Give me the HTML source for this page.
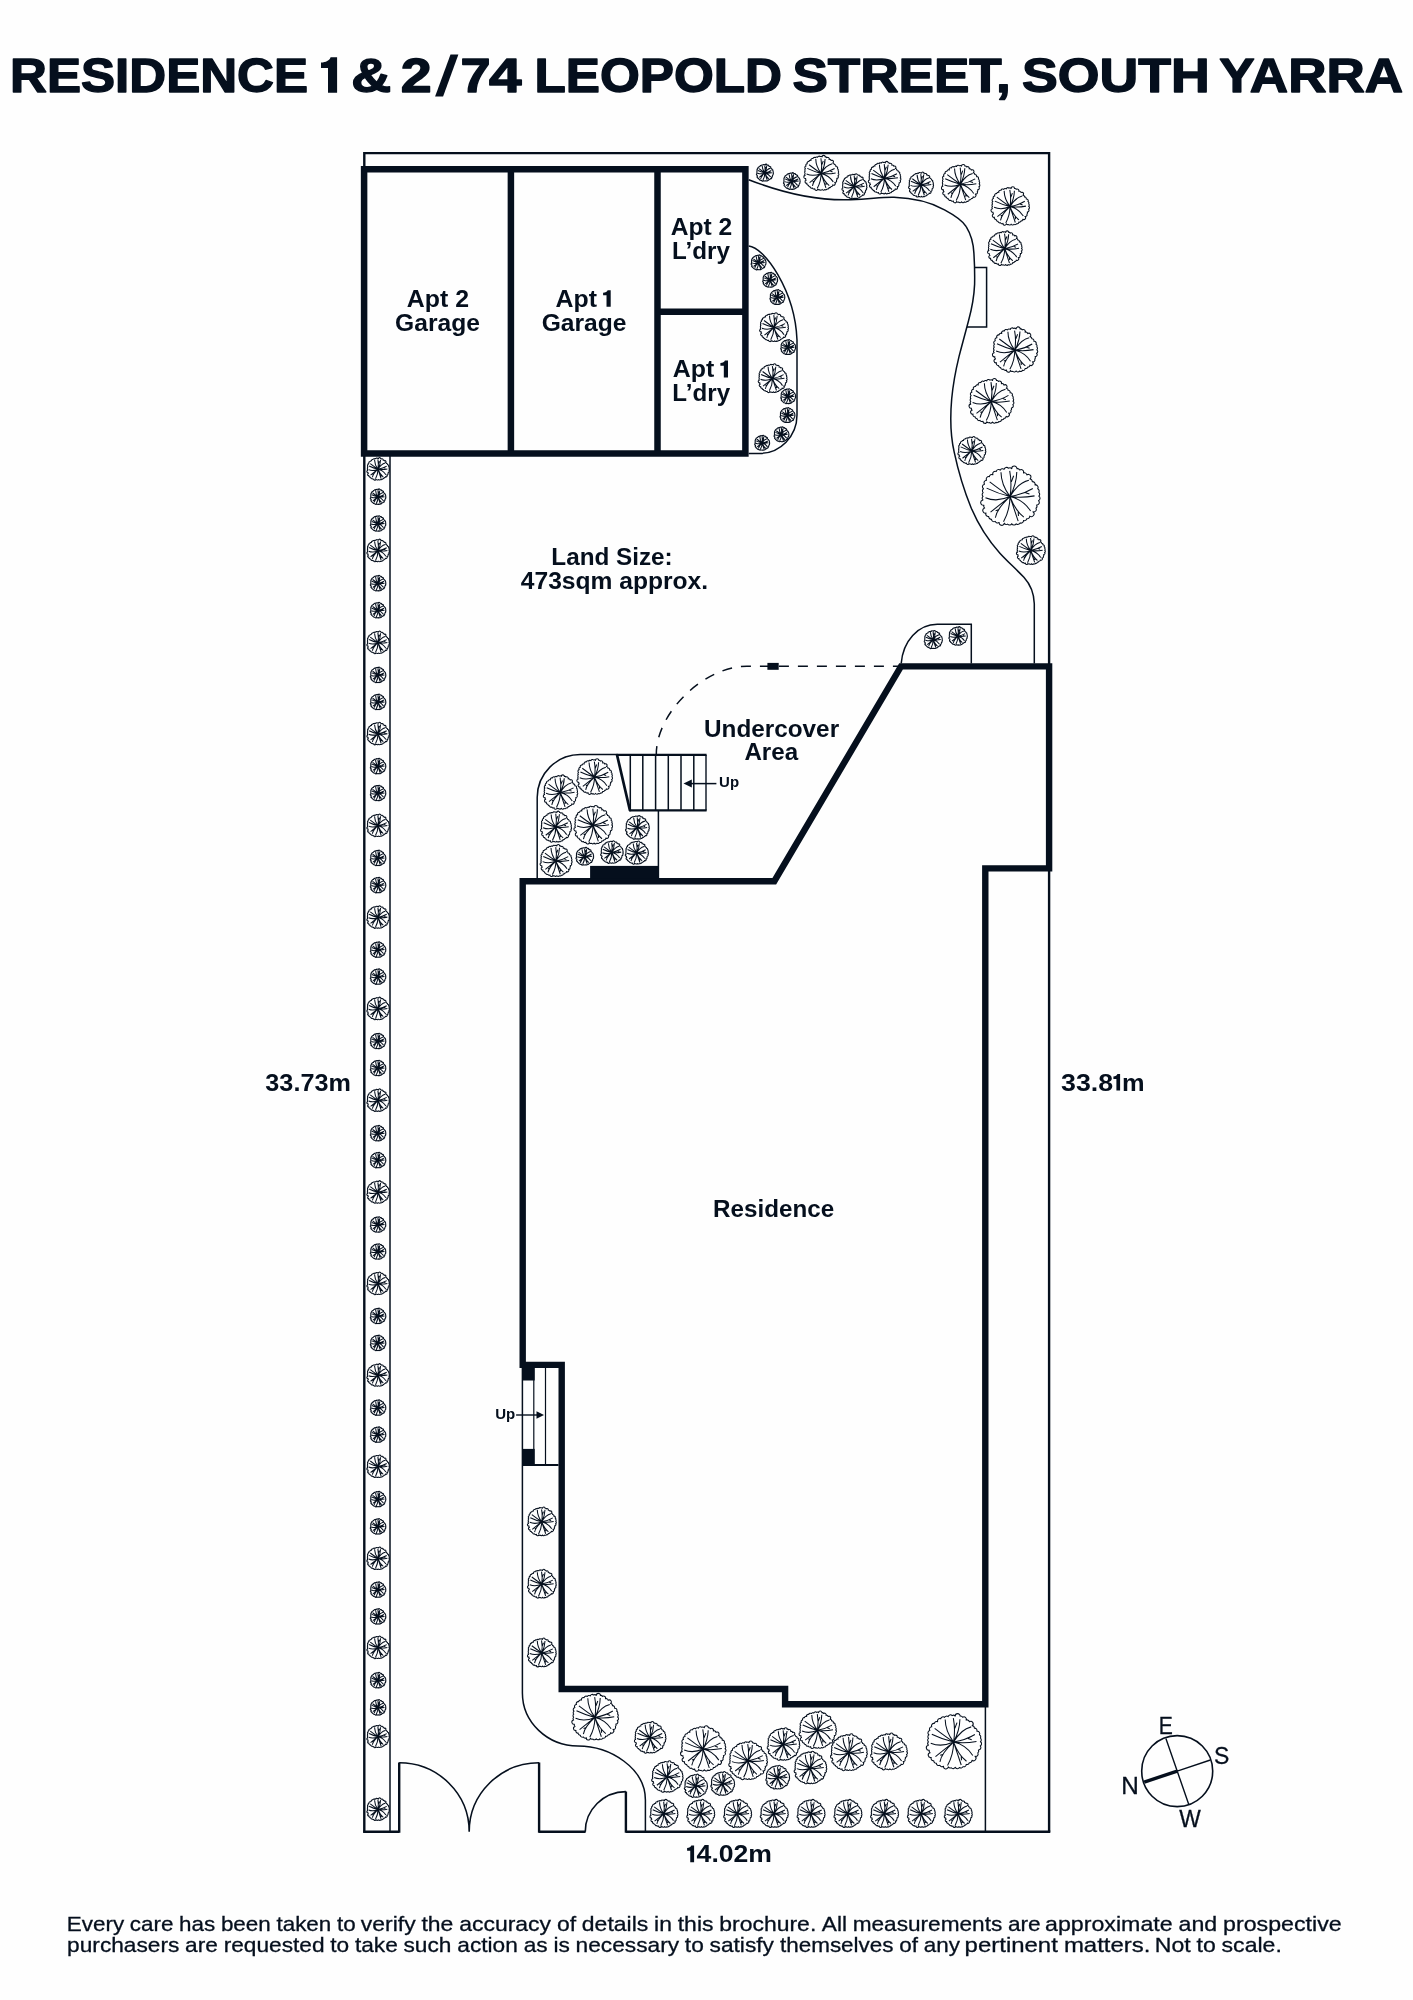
<!DOCTYPE html>
<html><head><meta charset="utf-8"><title>Site plan</title>
<style>
html,body{margin:0;padding:0;background:#fefefe;}
svg{display:block;font-family:"Liberation Sans",sans-serif;}
.t{fill:none;stroke:#050f1d;stroke-width:1.5;}
.m{fill:none;stroke:#050f1d;stroke-width:2.4;}
.w{fill:none;stroke:#050f1d;stroke-width:6.5;stroke-linejoin:miter;stroke-linecap:butt;}
.p{fill:none;stroke:#050f1d;stroke-width:1.05;vector-effect:non-scaling-stroke;stroke-linejoin:round;}
text{fill:#050f1d;}
svg{will-change:transform;}
</style></head><body>
<svg width="1413" height="2000" viewBox="0 0 1413 2000">
<rect width="1413" height="2000" fill="#fefefe"/>
<defs><path id="pl" class="p" d="M0.972,-0.015A0.085,0.085 0 0 1 0.962,0.137A0.085,0.085 0 0 1 0.898,0.284A0.085,0.085 0 0 1 0.878,0.392A0.085,0.085 0 0 1 0.776,0.513A0.085,0.085 0 0 1 0.667,0.657A0.085,0.085 0 0 1 0.570,0.745A0.085,0.085 0 0 1 0.457,0.807A0.085,0.085 0 0 1 0.341,0.889A0.085,0.085 0 0 1 0.209,0.921A0.085,0.085 0 0 1 0.059,0.914A0.085,0.085 0 0 1 -0.084,0.930A0.085,0.085 0 0 1 -0.193,0.897A0.085,0.085 0 0 1 -0.365,0.873A0.085,0.085 0 0 1 -0.498,0.837A0.085,0.085 0 0 1 -0.625,0.763A0.085,0.085 0 0 1 -0.718,0.674A0.085,0.085 0 0 1 -0.811,0.557A0.085,0.085 0 0 1 -0.853,0.387A0.085,0.085 0 0 1 -0.882,0.293A0.085,0.085 0 0 1 -0.913,0.112A0.085,0.085 0 0 1 -0.912,-0.007A0.085,0.085 0 0 1 -0.908,-0.137A0.085,0.085 0 0 1 -0.895,-0.267A0.085,0.085 0 0 1 -0.861,-0.420A0.085,0.085 0 0 1 -0.792,-0.553A0.085,0.085 0 0 1 -0.697,-0.675A0.085,0.085 0 0 1 -0.578,-0.741A0.085,0.085 0 0 1 -0.465,-0.848A0.085,0.085 0 0 1 -0.327,-0.896A0.085,0.085 0 0 1 -0.198,-0.923A0.085,0.085 0 0 1 -0.053,-0.960A0.085,0.085 0 0 1 0.058,-0.942A0.085,0.085 0 0 1 0.236,-0.942A0.085,0.085 0 0 1 0.328,-0.900A0.085,0.085 0 0 1 0.455,-0.798A0.085,0.085 0 0 1 0.571,-0.734A0.085,0.085 0 0 1 0.673,-0.597A0.085,0.085 0 0 1 0.752,-0.505A0.085,0.085 0 0 1 0.844,-0.393A0.085,0.085 0 0 1 0.935,-0.265A0.085,0.085 0 0 1 0.973,-0.146A0.085,0.085 0 0 1 0.972,-0.015Z M0,0Q-.3,-.4 -.305,-.819 M0,0Q.07,-.45 -.01,-.867 M.045,-.5L.124,-.705 M0,0Q.22,-.42 .229,-.829 M0,0Q.27,-.466 .638,-.552 M0,0Q.45,-.08 .771,-.276 M.524,-.133L.657,-.086 M0,0Q.4,.06 .829,-.025 M0,0Q.45,.1 .695,.486 M0,0Q.173,.464 .467,.695 M.276,.505L.286,.657 M0,0L.276,.829 M0,0Q0,.45 -.219,.848 M0,0Q-.44,.4 -.495,.714 M-.39,.448L-.486,.476 M0,0L-.657,.524 M0,0Q-.45,.2 -.829,.038 M0,0Q-.4,-.1 -.79,-.286 M0,0Q-.3,-.2 -.686,-.495"/></defs>

<g font-weight="700" stroke="#050f1d" stroke-width="1.4" stroke-linejoin="round">
<text x="10.08" y="91.80" font-size="48.8" textLength="297.99" lengthAdjust="spacingAndGlyphs">RESIDENCE</text>
<text x="351.31" y="91.80" font-size="48.8" textLength="39.97" lengthAdjust="spacingAndGlyphs">&amp;</text>
<text x="400.85" y="91.80" font-size="48.8" textLength="30.94" lengthAdjust="spacingAndGlyphs">2</text>
<text x="460.44" y="91.80" font-size="48.8" textLength="30.09" lengthAdjust="spacingAndGlyphs">7</text>
<text x="489.02" y="91.80" font-size="48.8" textLength="32.54" lengthAdjust="spacingAndGlyphs">4</text>
<text x="534.47" y="91.80" font-size="48.8" textLength="247.56" lengthAdjust="spacingAndGlyphs">LEOPOLD</text>
<text x="792.41" y="91.80" font-size="48.8" textLength="218.25" lengthAdjust="spacingAndGlyphs">STREET,</text>
<text x="1021.99" y="91.80" font-size="48.8" textLength="187.80" lengthAdjust="spacingAndGlyphs">SOUTH</text>
<text x="1219.34" y="91.80" font-size="48.8" textLength="183.80" lengthAdjust="spacingAndGlyphs">YARRA</text>
</g>
<path fill="#050f1d" d="M435.1,96.5H443.1L458.4,54.4H450.5Z"/>
<path fill="#050f1d" d="M337.1,57.3V92.7H328V68.1H321V62.6C326,62.4 329.5,60.5 330.6,57.3Z"/>
<path class="m" d="M364.3,1831.8V153.1H1049.1V1831.8"/>
<path class="m" d="M363.1,1831.8H399.2 M539.1,1831.8H585.6 M625.9,1831.8H1050.3"/>
<path class="m" d="M399.2,1832.7V1762.5 M539.1,1832.7V1762.5 M625.9,1832.7V1791.4"/>
<path class="t" style="stroke-width:1.6" d="M399.2,1762.7A70,69 0 0 1 469.2,1831.8A70,69 0 0 1 539.1,1762.7 M625.9,1791.6A41,40 0 0 0 585.3,1831.8"/>
<path class="t" style="stroke-width:1.5" d="M390,456V1831.8"/>
<path class="t" style="stroke-width:1.5" d="M985.4,1707V1831.8"/>
<path class="t" d="M748.7,179.7C780,192 815,201 850.7,199.7C872,199 880,197 894,197.3C915,198 932,203 944.5,209.8C957,216.5 963,221 966.2,226.6C972,236 973.5,245 973.9,253.1C974.6,264 974.8,274 974.6,284.4C974,298 972,308 968.6,320.5C965,334 962,345 959,356.6C955.5,371 953,385 951.7,398.7C950,418 950.5,436 954.2,452.2C958,470 963,488 971,507.5C978,524 988,540 999.9,553.2C1008,562 1016,569 1023.9,577.3C1030,584 1034,592 1034.3,603.8V663.4"/>
<path class="t" d="M974.6,267.5H986.6V327H967"/>
<path class="t" d="M748.7,246C764,247 795,290 797,340V415A37.5,38.4 0 0 1 759.5,453.4H748.7"/>
<path class="t" d="M901.2,663.4C903,641 918,624.2 937.3,624.2H971.3V663.4"/>
<path class="t" d="M537.2,878V797.4A43,43 0 0 1 580.2,754.6H617 M658.4,811V878"/>
<path class="t" style="stroke-width:2.2" d="M616.6,754.9H706.6 M629.6,810.4H706.6"/>
<path class="t" style="stroke-width:1.4" d="M706,754.9V810.4"/>
<path class="t" style="stroke-width:2.7;stroke-linecap:round" d="M617.1,755.2L629.9,810.2"/>
<path class="t" style="stroke-width:1.5" d="M630.3,754.9V810.4M642.8,754.9V810.4M655.6,754.9V810.4M668.3,754.9V810.4M681,754.9V810.4M693.8,754.9V810.4"/>
<path class="t" style="stroke-width:1.5" d="M716.4,783.6H688"/>
<path fill="#050f1d" d="M683.5,783.6L691.8,779.6V787.6Z"/>
<path class="t" style="stroke-width:1.5" stroke-dasharray="10 9" stroke-dashoffset="2" d="M656.3,754C656.3,712.6 704.2,666.25 747,666.25H899"/>
<rect x="767.4" y="662.9" width="11.3" height="6.9" fill="#050f1d"/>
<path class="t" d="M522.4,1366V1693A56,53 0 0 0 578,1746C610,1746 645.4,1768 645.4,1800V1831.8"/>
<path class="t" style="stroke-width:1.2" d="M533.8,1368V1465M545.5,1368V1465"/>
<path class="t" style="stroke-width:2.2" d="M522.3,1465H558.5"/>
<rect x="522.3" y="1367" width="12.4" height="13.5" fill="#050f1d"/><rect x="522.3" y="1448.9" width="12.4" height="16.5" fill="#050f1d"/>
<path class="t" style="stroke-width:1.4" d="M516.1,1415H540"/>
<path fill="#050f1d" d="M544,1415L536.5,1411.3V1418.7Z"/>
<g>
<use href="#pl" transform="translate(764.8,172.9) scale(8.5)"/>
<use href="#pl" transform="translate(791.7,181.3) scale(8.4)"/>
<use href="#pl" transform="translate(821.1,173.4) scale(17.5)"/>
<use href="#pl" transform="translate(854.3,186.6) scale(12.5)"/>
<use href="#pl" transform="translate(884.4,178.2) scale(16.3)"/>
<use href="#pl" transform="translate(920.9,184.9) scale(12.5)"/>
<use href="#pl" transform="translate(960.4,184.2) scale(19.2)"/>
<use href="#pl" transform="translate(1010,206.6) scale(19.2)"/>
<use href="#pl" transform="translate(1004.7,248.7) scale(17.3)"/>
<use href="#pl" transform="translate(1014.8,350.2) scale(22.6)"/>
<use href="#pl" transform="translate(991.2,401.6) scale(22.4)"/>
<use href="#pl" transform="translate(971.7,450.9) scale(14)"/>
<use href="#pl" transform="translate(1010,496.6) scale(29.6)"/>
<use href="#pl" transform="translate(1030.7,550.5) scale(14.4)"/>
<use href="#pl" transform="translate(933.2,639.8) scale(9.1)"/>
<use href="#pl" transform="translate(958,636.2) scale(9.3)"/>
<use href="#pl" transform="translate(758.5,262.6) scale(7.5)"/>
<use href="#pl" transform="translate(770.1,280.0) scale(7.5)"/>
<use href="#pl" transform="translate(777.3,297.3) scale(7.5)"/>
<use href="#pl" transform="translate(773.9,327.6) scale(14.4)"/>
<use href="#pl" transform="translate(788.1,347.3) scale(7.5)"/>
<use href="#pl" transform="translate(772.5,378.6) scale(14.4)"/>
<use href="#pl" transform="translate(788.1,396.4) scale(7.5)"/>
<use href="#pl" transform="translate(787.4,415.3) scale(7.5)"/>
<use href="#pl" transform="translate(781.4,434.5) scale(7.5)"/>
<use href="#pl" transform="translate(762.1,443.0) scale(7.5)"/>
<use href="#pl" transform="translate(594.5,777.1) scale(17.8)"/>
<use href="#pl" transform="translate(560.3,792.6) scale(17.2)"/>
<use href="#pl" transform="translate(555.9,827.1) scale(15.5)"/>
<use href="#pl" transform="translate(593,825.3) scale(19.3)"/>
<use href="#pl" transform="translate(637.3,827.7) scale(11.9)"/>
<use href="#pl" transform="translate(555.9,861.0) scale(16)"/>
<use href="#pl" transform="translate(584.7,856.5) scale(8.9)"/>
<use href="#pl" transform="translate(611.8,852.4) scale(11.3)"/>
<use href="#pl" transform="translate(636.7,852.9) scale(11.6)"/>
<use href="#pl" transform="translate(378,469.2) scale(11.3)"/>
<use href="#pl" transform="translate(378,550.8) scale(11.3)"/>
<use href="#pl" transform="translate(378,642.7) scale(11.3)"/>
<use href="#pl" transform="translate(378,733.9) scale(11.3)"/>
<use href="#pl" transform="translate(378,825.7) scale(11.3)"/>
<use href="#pl" transform="translate(378,917.4) scale(11.3)"/>
<use href="#pl" transform="translate(378,1008.8) scale(11.3)"/>
<use href="#pl" transform="translate(378,1100.5) scale(11.3)"/>
<use href="#pl" transform="translate(378,1192.3) scale(11.3)"/>
<use href="#pl" transform="translate(378,1283.7) scale(11.3)"/>
<use href="#pl" transform="translate(378,1375.3) scale(11.3)"/>
<use href="#pl" transform="translate(378,1466.6) scale(11.3)"/>
<use href="#pl" transform="translate(378,1558.6) scale(11.3)"/>
<use href="#pl" transform="translate(378,1647.7) scale(11.3)"/>
<use href="#pl" transform="translate(378,1736.7) scale(11.3)"/>
<use href="#pl" transform="translate(378,1809.5) scale(11.3)"/>
<use href="#pl" transform="translate(378,496.9) scale(7.8)"/>
<use href="#pl" transform="translate(378,523.7) scale(7.8)"/>
<use href="#pl" transform="translate(378,583.4) scale(7.8)"/>
<use href="#pl" transform="translate(378,610.4) scale(7.8)"/>
<use href="#pl" transform="translate(378,675.1) scale(7.8)"/>
<use href="#pl" transform="translate(378,702.1) scale(7.8)"/>
<use href="#pl" transform="translate(378,766.3) scale(7.8)"/>
<use href="#pl" transform="translate(378,793.2) scale(7.8)"/>
<use href="#pl" transform="translate(378,858.1) scale(7.8)"/>
<use href="#pl" transform="translate(378,885.3) scale(7.8)"/>
<use href="#pl" transform="translate(378,949.8) scale(7.8)"/>
<use href="#pl" transform="translate(378,976.8) scale(7.8)"/>
<use href="#pl" transform="translate(378,1041.2) scale(7.8)"/>
<use href="#pl" transform="translate(378,1068.2) scale(7.8)"/>
<use href="#pl" transform="translate(378,1133.4) scale(7.8)"/>
<use href="#pl" transform="translate(378,1160.3) scale(7.8)"/>
<use href="#pl" transform="translate(378,1224.7) scale(7.8)"/>
<use href="#pl" transform="translate(378,1251.7) scale(7.8)"/>
<use href="#pl" transform="translate(378,1316.1) scale(7.8)"/>
<use href="#pl" transform="translate(378,1343.1) scale(7.8)"/>
<use href="#pl" transform="translate(378,1407.8) scale(7.8)"/>
<use href="#pl" transform="translate(378,1434.8) scale(7.8)"/>
<use href="#pl" transform="translate(378,1499.3) scale(7.8)"/>
<use href="#pl" transform="translate(378,1526.6) scale(7.8)"/>
<use href="#pl" transform="translate(378,1589.8) scale(7.8)"/>
<use href="#pl" transform="translate(378,1616.6) scale(7.8)"/>
<use href="#pl" transform="translate(378,1680.4) scale(7.8)"/>
<use href="#pl" transform="translate(378,1707.6) scale(7.8)"/>
<use href="#pl" transform="translate(541.7,1521.8) scale(14.4)"/>
<use href="#pl" transform="translate(541.7,1584.1) scale(14.4)"/>
<use href="#pl" transform="translate(541.7,1652.9) scale(14.4)"/>
<use href="#pl" transform="translate(594.9,1717.4) scale(23.3)"/>
<use href="#pl" transform="translate(650,1737.8) scale(15.8)"/>
<use href="#pl" transform="translate(703,1749.1) scale(22.7)"/>
<use href="#pl" transform="translate(667.2,1777.0) scale(15.7)"/>
<use href="#pl" transform="translate(695.8,1786.1) scale(11.6)"/>
<use href="#pl" transform="translate(722.6,1783.8) scale(11.9)"/>
<use href="#pl" transform="translate(747.9,1760.9) scale(19.3)"/>
<use href="#pl" transform="translate(783.3,1744.5) scale(16.3)"/>
<use href="#pl" transform="translate(777.6,1777.5) scale(11.9)"/>
<use href="#pl" transform="translate(810.3,1768.0) scale(16.3)"/>
<use href="#pl" transform="translate(817.5,1730.3) scale(18.7)"/>
<use href="#pl" transform="translate(848.7,1752.8) scale(18.4)"/>
<use href="#pl" transform="translate(888.8,1752.0) scale(18.4)"/>
<use href="#pl" transform="translate(953.6,1742.1) scale(27.6)"/>
<use href="#pl" transform="translate(663.8,1813.8) scale(14)"/>
<use href="#pl" transform="translate(700.6,1813.8) scale(14)"/>
<use href="#pl" transform="translate(737.5,1813.8) scale(14)"/>
<use href="#pl" transform="translate(774.1,1813.8) scale(14)"/>
<use href="#pl" transform="translate(810.9,1813.8) scale(14)"/>
<use href="#pl" transform="translate(847.8,1813.8) scale(14)"/>
<use href="#pl" transform="translate(884.4,1813.8) scale(14)"/>
<use href="#pl" transform="translate(921.2,1813.8) scale(14)"/>
<use href="#pl" transform="translate(958.1,1813.8) scale(14)"/>
</g>
<path class="w" d="M364.1,169.3H745.4V453.5H364.1Z M510.9,169.3V453.5 M657.5,169.3V453.5 M657.5,311.7H745.4"/>
<path class="w" style="stroke-width:6.4" d="M522.7,881.2H774.3L901,666.4H1049.1V868.4H985.3V1704.3H785.1V1689H561.7V1364.9H522.7Z"/>
<rect x="590.1" y="865.9" width="68.3" height="13" fill="#050f1d"/>
<g font-weight="700">
<text x="406.78" y="306.80" font-size="23.5" textLength="62.22" lengthAdjust="spacingAndGlyphs">Apt 2</text>
<text x="395.12" y="331.10" font-size="23.5" textLength="84.78" lengthAdjust="spacingAndGlyphs">Garage</text>
<text x="555.58" y="306.80" font-size="23.5" textLength="41.40" lengthAdjust="spacingAndGlyphs">Apt</text>
<text x="541.72" y="331.10" font-size="23.5" textLength="84.78" lengthAdjust="spacingAndGlyphs">Garage</text>
<text x="670.79" y="234.50" font-size="23.5" textLength="61.50" lengthAdjust="spacingAndGlyphs">Apt 2</text>
<text x="672.13" y="258.60" font-size="23.5" textLength="57.89" lengthAdjust="spacingAndGlyphs">L’dry</text>
<text x="672.78" y="377.40" font-size="23.5" textLength="41.50" lengthAdjust="spacingAndGlyphs">Apt</text>
<text x="672.33" y="401.10" font-size="23.5" textLength="57.79" lengthAdjust="spacingAndGlyphs">L’dry</text>
<text x="551.32" y="565.00" font-size="23.5" textLength="121.40" lengthAdjust="spacingAndGlyphs">Land Size:</text>
<text x="520.83" y="588.60" font-size="23.5" textLength="187.28" lengthAdjust="spacingAndGlyphs">473sqm approx.</text>
<text x="704.04" y="736.50" font-size="23.5" textLength="135.07" lengthAdjust="spacingAndGlyphs">Undercover</text>
<text x="744.40" y="760.00" font-size="23.5" textLength="53.73" lengthAdjust="spacingAndGlyphs">Area</text>
<text x="713.13" y="1216.70" font-size="23.5" textLength="120.98" lengthAdjust="spacingAndGlyphs">Residence</text>
<text x="265.37" y="1090.80" font-size="23.5" textLength="85.46" lengthAdjust="spacingAndGlyphs">33.73m</text>
<text x="1061.03" y="1090.60" font-size="23.5" textLength="52.11" lengthAdjust="spacingAndGlyphs">33.8</text>
<text x="1121.95" y="1090.60" font-size="23.5" textLength="22.55" lengthAdjust="spacingAndGlyphs">m</text>
<text x="696.60" y="1862.20" font-size="23.5" textLength="75.41" lengthAdjust="spacingAndGlyphs">4.02m</text>
<path fill="#050f1d" d="M610.70,290.30V306.80H606.52V295.33H603.10V292.78C605.46,292.58 607.13,291.79 607.66,290.30Z"/>
<path fill="#050f1d" d="M728.00,360.60V377.40H723.82V365.72H720.40V363.12C722.76,362.92 724.43,362.11 724.96,360.60Z"/>
<path fill="#050f1d" d="M1120.10,1073.90V1090.60H1116.41V1078.99H1113.40V1076.40C1115.48,1076.20 1116.95,1075.40 1117.42,1073.90Z"/>
<path fill="#050f1d" d="M694.10,1845.60V1862.20H690.25V1850.66H687.10V1848.09C689.27,1847.89 690.81,1847.09 691.30,1845.60Z"/>
<text x="719.10" y="786.90" font-size="14" textLength="19.94" lengthAdjust="spacingAndGlyphs">Up</text>
<text x="495.20" y="1418.70" font-size="14" textLength="20.05" lengthAdjust="spacingAndGlyphs">Up</text>
</g>
<circle class="t" style="stroke-width:1.6" cx="1177.2" cy="1771.1" r="35.5"/>
<path class="t" style="stroke-width:1.4" d="M1165.9,1738.5L1188.7,1804.2 M1177.2,1771.1L1210.4,1760"/>
<path class="t" style="stroke-width:3.4" d="M1144.2,1782.1L1177.2,1771.1"/>
<text x="1158.71" y="1733.60" font-size="24" textLength="14.07" lengthAdjust="spacingAndGlyphs" stroke="#050f1d" stroke-width="0.3">E</text>
<text x="1213.97" y="1764.10" font-size="24" textLength="15.31" lengthAdjust="spacingAndGlyphs" stroke="#050f1d" stroke-width="0.3">S</text>
<text x="1121.26" y="1794.30" font-size="24" textLength="17.54" lengthAdjust="spacingAndGlyphs" stroke="#050f1d" stroke-width="0.3">N</text>
<text x="1179.19" y="1826.60" font-size="24" textLength="21.50" lengthAdjust="spacingAndGlyphs" stroke="#050f1d" stroke-width="0.3">W</text>
<text x="66.81" y="1930.50" font-size="21" textLength="288.86" lengthAdjust="spacingAndGlyphs" stroke="#050f1d" stroke-width="0.3" word-spacing="-0.5">Every care has been taken to</text>
<text x="360.79" y="1930.50" font-size="21" textLength="455.49" lengthAdjust="spacingAndGlyphs" stroke="#050f1d" stroke-width="0.3" word-spacing="-0.5">verify the accuracy of details in this brochure.</text>
<text x="821.80" y="1930.50" font-size="21" textLength="218.85" lengthAdjust="spacingAndGlyphs" stroke="#050f1d" stroke-width="0.3" word-spacing="-0.5">All measurements are</text>
<text x="1045.07" y="1930.50" font-size="21" textLength="296.60" lengthAdjust="spacingAndGlyphs" stroke="#050f1d" stroke-width="0.3" word-spacing="-0.5">approximate and prospective</text>
<text x="67.13" y="1952.10" font-size="21" textLength="330.71" lengthAdjust="spacingAndGlyphs" stroke="#050f1d" stroke-width="0.3" word-spacing="-0.5">purchasers are requested to take</text>
<text x="403.52" y="1952.10" font-size="21" textLength="370.42" lengthAdjust="spacingAndGlyphs" stroke="#050f1d" stroke-width="0.3" word-spacing="-0.5">such action as is necessary to satisfy</text>
<text x="779.96" y="1952.10" font-size="21" textLength="179.93" lengthAdjust="spacingAndGlyphs" stroke="#050f1d" stroke-width="0.3" word-spacing="-0.5">themselves of any</text>
<text x="964.64" y="1952.10" font-size="21" textLength="185.74" lengthAdjust="spacingAndGlyphs" stroke="#050f1d" stroke-width="0.3" word-spacing="-0.5">pertinent matters.</text>
<text x="1154.75" y="1952.10" font-size="21" textLength="127.09" lengthAdjust="spacingAndGlyphs" stroke="#050f1d" stroke-width="0.3" word-spacing="-0.5">Not to scale.</text>
</svg></body></html>
